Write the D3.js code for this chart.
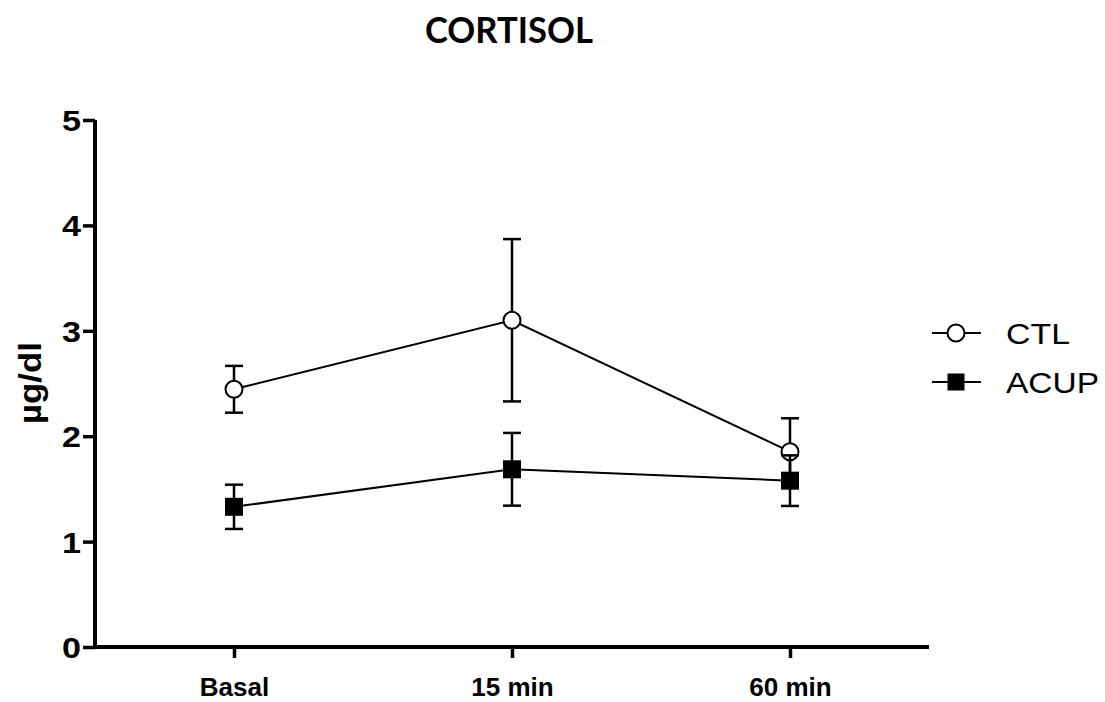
<!DOCTYPE html>
<html>
<head>
<meta charset="utf-8">
<script src="https://d3js.org/d3.v7.min.js"></script>
<style>
  html, body { margin: 0; padding: 0; background: #fff; }
  svg { display: block; }
</style>
</head>
<body>
<svg id="chart" width="1105" height="702"></svg>
<script>
const categories = ["Basal", "15 min", "60 min"];
const ctlMean = [2.445, 3.10, 1.853];
const ctlErr  = [0.222, 0.77, 0.317];
const acupMean = [1.33, 1.686, 1.578];
const acupErr  = [0.21, 0.345, 0.24];
const yTicks = [0, 1, 2, 3, 4, 5];
const seriesNames = ["CTL", "ACUP"];
const titleText = "CORTISOL";
const yLabel = "µg/dl";

const svg = d3.select("#chart");
const FONT = "'Liberation Sans', Arial, Helvetica, sans-serif";

const x = d3.scalePoint().domain(categories).range([95, 929]).padding(0.5);
const y = d3.scaleLinear().domain([0, 5]).range([647, 120]);

// Title
svg.append("text")
  .attr("x", 509).attr("y", 43)
  .attr("text-anchor", "middle")
  .attr("font-family", "Lato, 'Open Sans', sans-serif")
  .attr("font-weight", "bold")
  .attr("font-size", 37)
  .attr("textLength", 168).attr("lengthAdjust", "spacingAndGlyphs")
  .text(titleText);

// Y axis
const yAxis = d3.axisLeft(y).tickValues(yTicks).tickSize(12).tickPadding(3).tickFormat(d3.format("d"));
const gy = svg.append("g").attr("transform", "translate(95,0)").call(yAxis);
gy.select(".domain").attr("d", `M0,${y(5)}V${y(0)}`).attr("stroke", "#000").attr("stroke-width", 4);
gy.selectAll(".tick line").attr("stroke", "#000").attr("stroke-width", 3.5);
gy.selectAll(".tick text")
  .attr("font-family", FONT).attr("font-weight", "bold").attr("font-size", 29)
  .attr("fill", "#000").attr("x", -14).attr("dy", "0.36em")
  .attr("textLength", 19).attr("lengthAdjust", "spacingAndGlyphs");

// X axis
const xAxis = d3.axisBottom(x).tickSize(11).tickPadding(0);
const gx = svg.append("g").attr("transform", `translate(0,${y(0)})`).call(xAxis);
gx.select(".domain").attr("d", `M93,0H929`).attr("stroke", "#000").attr("stroke-width", 4);
gx.selectAll(".tick line").attr("stroke", "#000").attr("stroke-width", 3.5);
gx.selectAll(".tick text")
  .attr("font-family", FONT).attr("font-weight", "bold").attr("font-size", 26)
  .attr("fill", "#000").attr("y", 49).attr("dy", 0);

// Y label
svg.append("text")
  .attr("transform", "translate(41,383) rotate(-90)")
  .attr("text-anchor", "middle")
  .attr("font-family", FONT).attr("font-weight", "bold").attr("font-size", 31)
  .attr("textLength", 82).attr("lengthAdjust", "spacingAndGlyphs")
  .text(yLabel);

function drawSeries(means, errs, type) {
  const data = categories.map((c, i) => ({ c, m: means[i], e: errs[i] }));
  const g = svg.append("g");
  const capW = 9;
  // error bars
  const eb = g.selectAll(".eb").data(data).enter().append("g");
  eb.append("line")
    .attr("x1", d => x(d.c)).attr("x2", d => x(d.c))
    .attr("y1", d => y(d.m + d.e)).attr("y2", d => y(d.m - d.e))
    .attr("stroke", "#000").attr("stroke-width", 2.5);
  eb.append("line")
    .attr("x1", d => x(d.c) - capW).attr("x2", d => x(d.c) + capW)
    .attr("y1", d => y(d.m + d.e)).attr("y2", d => y(d.m + d.e))
    .attr("stroke", "#000").attr("stroke-width", 2.5);
  eb.append("line")
    .attr("x1", d => x(d.c) - capW).attr("x2", d => x(d.c) + capW)
    .attr("y1", d => y(d.m - d.e)).attr("y2", d => y(d.m - d.e))
    .attr("stroke", "#000").attr("stroke-width", 2.5);
  // connecting line
  g.append("path")
    .datum(data)
    .attr("d", d3.line().x(d => x(d.c)).y(d => y(d.m)))
    .attr("fill", "none").attr("stroke", "#000").attr("stroke-width", 2);
  // markers
  if (type === "circle") {
    g.selectAll(".mk").data(data).enter().append("circle")
      .attr("cx", d => x(d.c)).attr("cy", d => y(d.m)).attr("r", 8.5)
      .attr("fill", "#fff").attr("stroke", "#000").attr("stroke-width", 2);
  } else {
    g.selectAll(".mk").data(data).enter().append("rect")
      .attr("x", d => x(d.c) - 9).attr("y", d => y(d.m) - 9)
      .attr("width", 18).attr("height", 18)
      .attr("fill", "#000");
  }
}

drawSeries(ctlMean, ctlErr, "circle");
drawSeries(acupMean, acupErr, "square");

// Legend
const legY = [333, 382];
const leg = svg.append("g");
seriesNames.forEach((name, i) => {
  const yy = legY[i];
  leg.append("line").attr("x1", 932).attr("x2", 981).attr("y1", yy).attr("y2", yy)
    .attr("stroke", "#000").attr("stroke-width", 2);
  if (i === 0) {
    leg.append("circle").attr("cx", 956).attr("cy", yy).attr("r", 8.5)
      .attr("fill", "#fff").attr("stroke", "#000").attr("stroke-width", 2);
  } else {
    leg.append("rect").attr("x", 947.5).attr("y", yy - 8.5).attr("width", 17).attr("height", 17)
      .attr("fill", "#000");
  }
  leg.append("text").attr("x", 1006).attr("y", yy + 10.5)
    .attr("font-family", FONT).attr("font-size", 29)
    .attr("textLength", i === 0 ? 64 : 93).attr("lengthAdjust", "spacingAndGlyphs")
    .text(name);
});
</script>
</body>
</html>
